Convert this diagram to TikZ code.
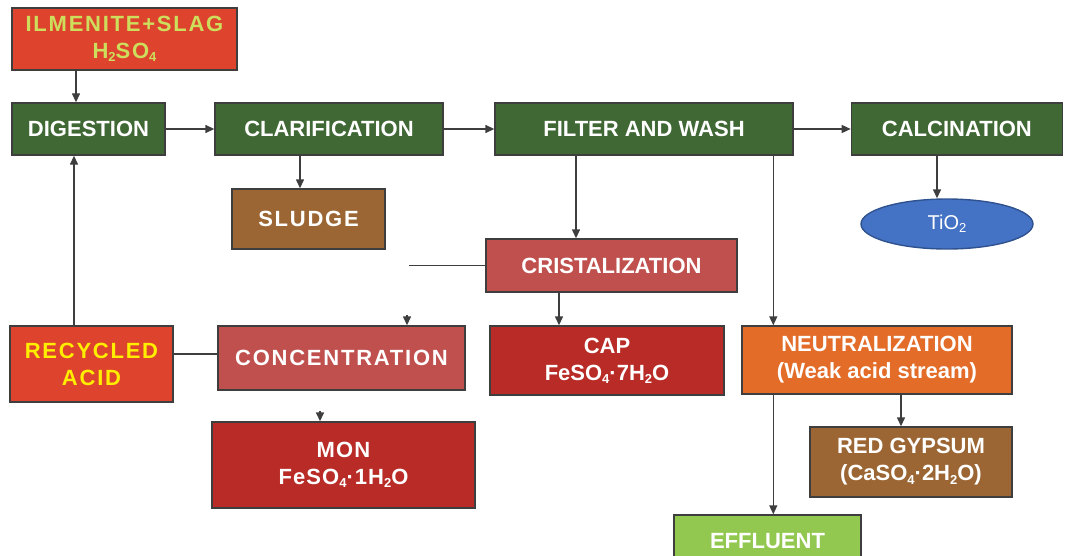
\documentclass[tikz,border=0pt]{standalone}
\usepackage{fontspec}
\setmainfont{Liberation Sans}
\usetikzlibrary{arrows.meta,positioning,shapes.geometric}
\definecolor{boxline}{RGB}{62,62,62}
\definecolor{stagegreen}{RGB}{64,104,52}
\definecolor{feedred}{RGB}{222,68,45}
\definecolor{feedtext}{RGB}{205,222,92}
\definecolor{acidtext}{RGB}{255,238,0}
\definecolor{mudbrown}{RGB}{155,102,52}
\definecolor{saltred}{RGB}{192,80,77}
\definecolor{prodred}{RGB}{184,43,38}
\definecolor{neutorange}{RGB}{227,108,40}
\definecolor{effgreen}{RGB}{146,200,80}
\definecolor{oxblue}{RGB}{68,114,196}
\definecolor{oxline}{RGB}{47,82,143}
\newcommand{\chsub}[1]{\raisebox{-1.6pt}{\fontsize{6.5}{7}\selectfont #1}}
\newcommand{\spaced}{\addfontfeature{LetterSpace=8}}
\tikzset{
  >={Triangle[length=4.5pt,width=4pt]},
  flow/.style={draw=boxline, line width=0.7pt},
  stage/.style={
    draw=boxline, line width=0.7pt, rectangle, align=center, inner sep=2pt, text=white,
    font=\fontsize{11}{13.5}\selectfont\bfseries, fill=stagegreen,
    minimum height=26pt
  },
  feed/.style={stage, fill=feedred, text=feedtext, font=\fontsize{11}{13.5}\selectfont\bfseries\spaced},
  waste/.style={stage, fill=mudbrown},
  salt/.style={stage, fill=saltred},
  prod/.style={stage, fill=prodred},
  oxide/.style={
    draw=oxline, line width=0.7pt, ellipse, fill=oxblue, text=white, inner sep=1pt,
    font=\fontsize{10}{12}\selectfont, minimum width=86pt, minimum height=25pt
  },
}

\begin{document}
\begin{tikzpicture}[x=0.5pt,y=-0.5pt]
  \useasboundingbox (0,0) rectangle (1065,556);
  % main line
  \node[feed, minimum width=112.5pt, minimum height=31pt] (ilm) at (124.5,39) {ILMENITE+SLAG\\H\chsub{2}SO\chsub{4}};
  \node[stage, minimum width=76.5pt] (dig) at (88.5,129) {DIGESTION};
  \node[stage, minimum width=114pt, right=24.3pt of dig] (clar) {CLARIFICATION};
  \node[stage, minimum width=149pt, right=25.3pt of clar] (filt) {FILTER AND WASH};
  \node[stage, minimum width=105.5pt, right=28.5pt of filt] (calc) {CALCINATION};
  % side streams
  \node[waste, font=\fontsize{11}{13.5}\selectfont\bfseries\spaced, minimum width=76.5pt, minimum height=30pt] (sludge) at (308.5,219) {SLUDGE};
  \node[oxide] (tio) at (947,224) {TiO\chsub{2}};
  \node[salt, minimum width=125.5pt, minimum height=26.5pt] (crist) at (611.5,265.5) {CRISTALIZATION};
  \node[feed, text=acidtext, minimum width=81.5pt, minimum height=38pt] (recyc) at (91.5,364) {RECYCLED\\ACID};
  \node[salt, font=\fontsize{11}{13.5}\selectfont\bfseries\spaced, minimum width=123.5pt, minimum height=32pt] (conc) at (341.5,358) {CONCENTRATION};
  \node[prod, minimum width=117pt, minimum height=34.5pt] (cap) at (607,360.5) {CAP\\FeSO\chsub{4}·7H\chsub{2}O};
  \node[stage, fill=neutorange, minimum width=135pt, minimum height=34pt] (neut) at (877,360) {NEUTRALIZATION\\(Weak acid stream)};
  \node[prod, font=\fontsize{11}{13.5}\selectfont\bfseries\addfontfeature{LetterSpace=5}, minimum width=131.5pt, minimum height=43pt] (mon) at (343.5,465) {MON\\FeSO\chsub{4}·1H\chsub{2}O};
  \node[waste, minimum width=101pt, minimum height=35pt] (gyps) at (911,462) {RED GYPSUM\\(CaSO\chsub{4}·2H\chsub{2}O)};
  \node[stage, fill=effgreen, minimum width=93.5pt] (eff) at (767.5,541) {EFFLUENT};
  % connectors
  \draw[flow, ->] ([xshift=-6.25pt]dig.north |- ilm.south) -- ([xshift=-6.25pt]dig.north);
  \draw[flow, ->] (dig) -- (clar);
  \draw[flow, ->] (clar) -- (filt);
  \draw[flow, ->] (filt) -- (calc);
  \draw[flow, ->] ([xshift=-4.25pt]sludge.north |- clar.south) -- ([xshift=-4.25pt]sludge.north);
  \draw[flow, ->] ([xshift=-5pt]tio.north |- calc.south) -- ([xshift=-5pt]tio.north);
  \draw[flow, ->] ([xshift=-17.75pt]crist.north |- filt.south) -- ([xshift=-17.75pt]crist.north);
  \draw[flow, ->] ([xshift=16pt]neut.north west |- filt.south) -- ([xshift=16pt]neut.north west);
  \draw[flow, ->] ([xshift=-24pt]cap.north |- crist.south) -- ([xshift=-24pt]cap.north);
  \coordinate (crend) at (409,265.5);
  \draw[flow] (crist.west) -- (crend);
  \coordinate (conctip) at (407,315);
  \draw[flow, ->] (conctip) -- (conctip |- conc.north);
  \draw[flow] ([yshift=2pt]conc.west) -- ([yshift=2pt]conc.west -| recyc.east);
  \draw[flow, ->] ([xshift=-8.75pt]recyc.north) -- ([xshift=-8.75pt]recyc.north |- dig.south);
  \coordinate (montip) at (320,411);
  \draw[flow, ->] (montip) -- (montip |- mon.north);
  \draw[flow, ->] ([xshift=-5pt]gyps.north |- neut.south) -- ([xshift=-5pt]gyps.north);
  \draw[flow, ->] ([xshift=16pt]neut.south west) -- ([xshift=16pt]neut.south west |- eff.north);
\end{tikzpicture}
\end{document}
